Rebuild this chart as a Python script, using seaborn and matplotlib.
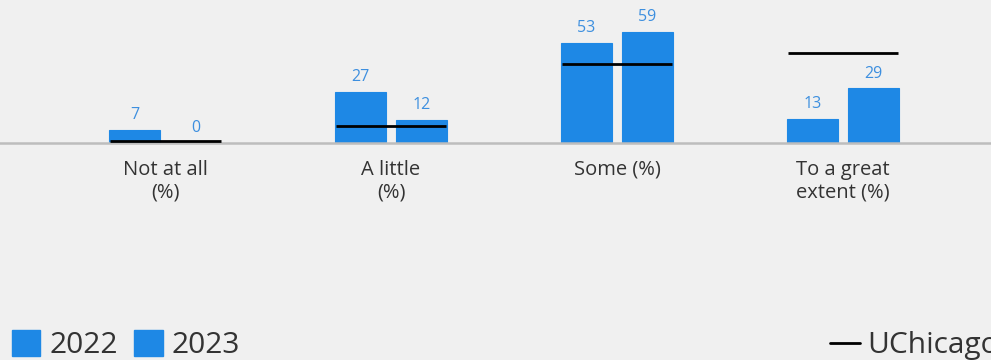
import matplotlib
matplotlib.use("Agg")
import matplotlib.pyplot as plt
import seaborn as sns
import pandas as pd
from matplotlib.patches import Patch
from matplotlib.lines import Line2D

categories = ["Not at all\n(%)", "A little\n(%)", "Some (%)", "To a great\nextent (%)"]
years = ["2022", "2023"]
values_2022 = [7, 27, 53, 13]
values_2023 = [0, 12, 59, 29]
uchicago = [1, 9, 42, 48]

BG = "#f0f0f0"
BLUE = "#1e88e5"
LABEL_BLUE = "#3d8fdf"

sns.set_theme(style="white")
plt.rcParams["font.family"] = ["Open Sans", "DejaVu Sans"]

df = pd.DataFrame({
    "category": categories * 2,
    "year": [years[0]] * 4 + [years[1]] * 4,
    "value": values_2022 + values_2023,
})

fig = plt.figure(figsize=(9.91, 3.6), dpi=100, facecolor=BG)
ax = fig.add_axes([0, (360 - 143) / 360, 1, 143 / 360])
ax.set_facecolor(BG)

group_w = 122 / 226
sns.barplot(data=df, x="category", y="value", hue="year", order=categories,
            hue_order=years, palette=[BLUE, BLUE], width=group_w, gap=0.18,
            saturation=1, legend=False, ax=ax, edgecolor=BLUE, linewidth=0.8)

for cont in ax.containers:
    ax.bar_label(cont, padding=5, color=LABEL_BLUE, fontsize=11.5)

half = 55.5 / 226
for i, v in enumerate(uchicago):
    ax.hlines(v, i - half, i + half, color="black", linewidth=2, zorder=5)

ax.set_xlim(-165 / 226, (991 - 165) / 226)
ax.set_ylim(0, 143 / 1.88)
for s in ["top", "left", "right"]:
    ax.spines[s].set_visible(False)
ax.spines["bottom"].set_color("#bdbdbd")
ax.spines["bottom"].set_linewidth(1.8)
ax.set_yticks([])
ax.set_xlabel("")
ax.set_ylabel("")
ax.tick_params(axis="x", length=0, pad=12, labelsize=14.5, labelcolor="#333333")
for t in ax.get_xticklabels():
    t.set_linespacing(1.2)

h1 = [Patch(facecolor=BLUE, edgecolor=BLUE, label=y) for y in years]
leg1 = fig.legend(handles=h1, loc="lower left", bbox_to_anchor=(0.012, 0.0),
                  ncol=2, frameon=False, fontsize=21.5, handlelength=0.95,
                  handleheight=0.95, handletextpad=0.3, columnspacing=0.55,
                  borderpad=0, borderaxespad=0, labelcolor="#333333")
h2 = [Line2D([0], [0], color="black", linewidth=2, label="UChicago")]
leg2 = fig.legend(handles=h2, loc="lower left", bbox_to_anchor=(830 / 991, 0.0),
                  frameon=False, fontsize=21.5, handlelength=1.0,
                  handletextpad=0.25, borderpad=0, borderaxespad=0,
                  labelcolor="#333333")

fig.savefig("out.png", dpi=100, facecolor=BG)
